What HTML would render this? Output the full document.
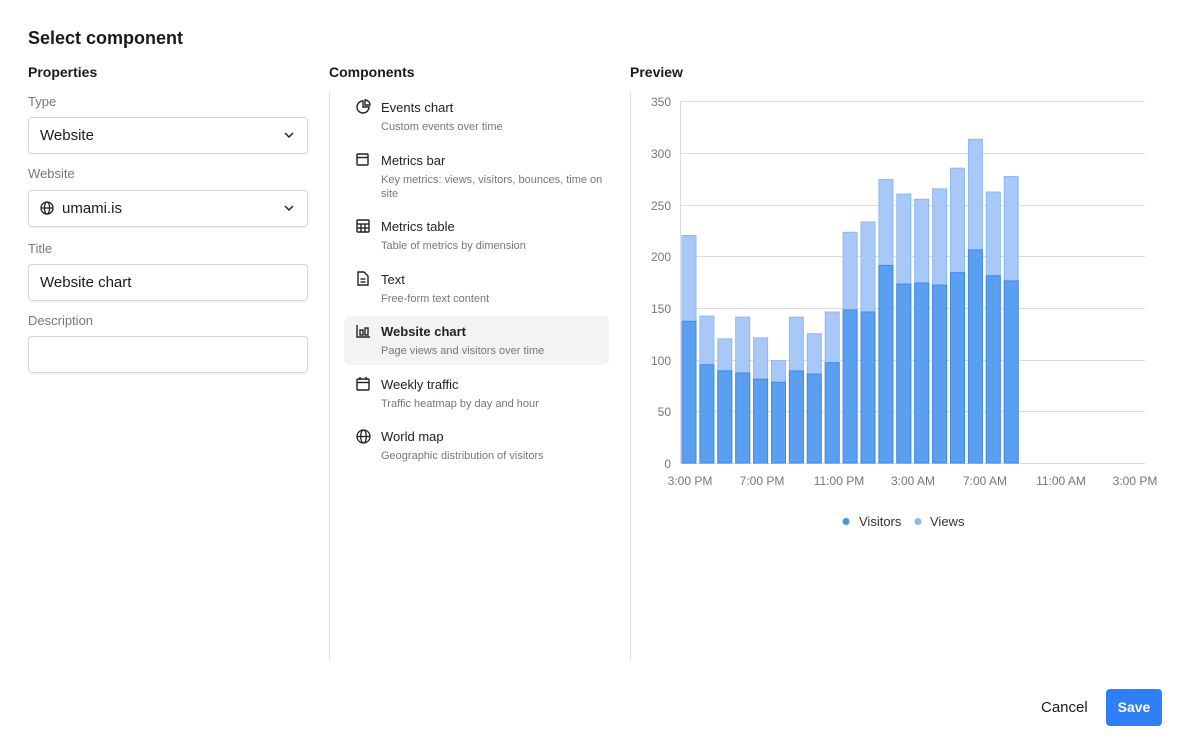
<!DOCTYPE html>
<html><head><meta charset="utf-8"><style>
*{box-sizing:border-box;margin:0;padding:0}
body{width:1191px;height:755px;background:#fff;font-family:"Liberation Sans",sans-serif;color:#1a1a1a;position:relative;overflow:hidden}
.a{position:absolute}
h1{position:absolute;left:28px;top:28px;font-size:18px;font-weight:bold}
.h{position:absolute;font-size:14px;font-weight:bold;top:64px}
.lbl{position:absolute;left:28px;font-size:13px;color:#777}
.inp{position:absolute;left:28px;width:280px;height:37px;border:1px solid #d6d6d6;border-radius:4px;font-size:15px;padding:0 11px;line-height:36px;box-shadow:0 1px 2px rgba(0,0,0,.06)}
.chev{position:absolute;right:13px;top:13px}
.it{position:absolute;left:344px;width:265px}
.it .t{position:absolute;left:37px;font-size:13px;color:#222}
.it .d{position:absolute;left:37px;font-size:11px;color:#777;line-height:14px}
.ic{position:absolute;left:12px}
</style></head><body>
<h1>Select component</h1>
<div class="h" style="left:28px">Properties</div>
<div class="h" style="left:329px">Components</div>
<div class="h" style="left:630px">Preview</div>
<div class="lbl" style="top:94px">Type</div>
<div class="inp" style="top:117px">Website<svg class="chev" width="10" height="8"><path d="M1 2l4 4 4-4" fill="none" stroke="#222" stroke-width="1.5"/></svg></div>
<div class="lbl" style="top:166px">Website</div>
<div class="inp" style="top:190px"><svg width="14" height="14" style="vertical-align:-2px;margin-right:8px" fill="none" stroke="#222" stroke-width="1.3"><circle cx="7" cy="7" r="6"/><ellipse cx="7" cy="7" rx="2.6" ry="6"/><line x1="1" y1="7" x2="13" y2="7"/></svg>umami.is<svg class="chev" width="10" height="8"><path d="M1 2l4 4 4-4" fill="none" stroke="#222" stroke-width="1.5"/></svg></div>
<div class="lbl" style="top:241px">Title</div>
<div class="inp" style="top:264px">Website chart</div>
<div class="lbl" style="top:313px">Description</div>
<div class="inp" style="top:336px"></div>
<div class="a" style="left:329px;top:92px;width:1px;height:568px;background:#ddd"></div>
<div class="a" style="left:630px;top:92px;width:1px;height:568px;background:#ddd"></div>

<div class="it" style="top:97px"><svg class="ic" style="top:2px" width="15" height="15" fill="none" stroke="#222" stroke-width="1.4"><path d="M7 2a6 6 0 1 0 6 6H7z"/><path d="M9 1a5 5 0 0 1 5 5H9z"/></svg><span class="t" style="top:3px">Events chart</span><span class="d" style="top:23px">Custom events over time</span></div>
<div class="it" style="top:150px"><svg class="ic" style="top:3px" width="14" height="14" fill="none" stroke="#222" stroke-width="1.4"><rect x="1" y="1" width="11" height="11" rx="1"/><line x1="1" y1="4.5" x2="12" y2="4.5"/></svg><span class="t" style="top:3px">Metrics bar</span><span class="d" style="top:23px;width:225px">Key metrics: views, visitors, bounces, time on site</span></div>
<div class="it" style="top:216px"><svg class="ic" style="top:3px" width="14" height="14" fill="none" stroke="#222" stroke-width="1.4"><rect x="1" y="1" width="12" height="12" rx="1"/><line x1="1" y1="5" x2="13" y2="5"/><line x1="1" y1="9" x2="13" y2="9"/><line x1="5" y1="5" x2="5" y2="13"/><line x1="9" y1="5" x2="9" y2="13"/></svg><span class="t" style="top:3px">Metrics table</span><span class="d" style="top:23px">Table of metrics by dimension</span></div>
<div class="it" style="top:269px"><svg class="ic" style="top:2px" width="14" height="15" fill="none" stroke="#222" stroke-width="1.4"><path d="M2 1h6l4 4v9H2z"/><line x1="4.5" y1="8" x2="9.5" y2="8"/><line x1="4.5" y1="11" x2="9.5" y2="11"/></svg><span class="t" style="top:3px">Text</span><span class="d" style="top:23px">Free-form text content</span></div>
<div class="it" style="top:316px;height:49px;background:#f3f3f3;border-radius:6px"><svg class="ic" style="top:8px" width="15" height="14" fill="none" stroke="#222" stroke-width="1.4"><path d="M1 1v12h13"/><rect x="4" y="6" width="3" height="5"/><rect x="9" y="4" width="3" height="7"/></svg><span class="t" style="top:8px;font-weight:bold">Website chart</span><span class="d" style="top:28px">Page views and visitors over time</span></div>
<div class="it" style="top:374px"><svg class="ic" style="top:2px" width="14" height="15" fill="none" stroke="#222" stroke-width="1.4"><rect x="1" y="3" width="12" height="11" rx="1"/><line x1="1" y1="6.5" x2="13" y2="6.5"/><line x1="4" y1="1" x2="4" y2="4"/><line x1="10" y1="1" x2="10" y2="4"/></svg><span class="t" style="top:3px">Weekly traffic</span><span class="d" style="top:23px">Traffic heatmap by day and hour</span></div>
<div class="it" style="top:426px"><svg class="ic" style="top:3px" width="15" height="15" fill="none" stroke="#222" stroke-width="1.3"><circle cx="7.5" cy="7.5" r="6.5"/><ellipse cx="7.5" cy="7.5" rx="2.8" ry="6.5"/><line x1="1" y1="7.5" x2="14" y2="7.5"/></svg><span class="t" style="top:3px">World map</span><span class="d" style="top:23px">Geographic distribution of visitors</span></div>

<svg class="a" style="left:0;top:0" width="1191" height="755">
<g stroke="#dcdcdc" stroke-width="1">
<line x1="681" x2="1145" y1="101.5" y2="101.5"/><line x1="681" x2="1145" y1="153.5" y2="153.5"/><line x1="681" x2="1145" y1="205.5" y2="205.5"/><line x1="681" x2="1145" y1="256.5" y2="256.5"/><line x1="681" x2="1145" y1="308.5" y2="308.5"/><line x1="681" x2="1145" y1="360.5" y2="360.5"/><line x1="681" x2="1145" y1="411.5" y2="411.5"/><line x1="681" x2="1145" y1="463.5" y2="463.5"/><line x1="680.5" x2="680.5" y1="101" y2="464"/>
</g>
<g font-size="12" fill="#777" text-anchor="end">
<text x="671" y="106">350</text><text x="671" y="158">300</text><text x="671" y="210">250</text><text x="671" y="261">200</text><text x="671" y="313">150</text><text x="671" y="365">100</text><text x="671" y="416">50</text><text x="671" y="468">0</text>
</g>
<g font-size="12" fill="#777" text-anchor="middle">
<text x="690" y="485">3:00 PM</text><text x="762" y="485">7:00 PM</text><text x="839" y="485">11:00 PM</text><text x="913" y="485">3:00 AM</text><text x="985" y="485">7:00 AM</text><text x="1061" y="485">11:00 AM</text><text x="1135" y="485">3:00 PM</text>
</g>
<g transform="translate(0,463) scale(1,-1.0343)" fill="#a8c9f7" stroke="#8fb9f3" stroke-width="1">
<rect x="682" width="14" height="220"/><rect x="699.9" width="14" height="142"/><rect x="717.8" width="14" height="120"/><rect x="735.7" width="14" height="141"/><rect x="753.6" width="14" height="121"/><rect x="771.5" width="14" height="99"/><rect x="789.4" width="14" height="141"/><rect x="807.3" width="14" height="125"/><rect x="825.2" width="14" height="146"/><rect x="843.1" width="14" height="223"/><rect x="861" width="14" height="233"/><rect x="878.9" width="14" height="274"/><rect x="896.8" width="14" height="260"/><rect x="914.7" width="14" height="255"/><rect x="932.6" width="14" height="265"/><rect x="950.5" width="14" height="285"/><rect x="968.4" width="14" height="313"/><rect x="986.3" width="14" height="262"/><rect x="1004.2" width="14" height="277"/>
</g>
<g transform="translate(0,463) scale(1,-1.0343)" fill="#5b9ff0" stroke="#3f8ae8" stroke-width="1">
<rect x="682" width="14" height="137"/><rect x="699.9" width="14" height="95"/><rect x="717.8" width="14" height="89"/><rect x="735.7" width="14" height="87"/><rect x="753.6" width="14" height="81"/><rect x="771.5" width="14" height="78"/><rect x="789.4" width="14" height="89"/><rect x="807.3" width="14" height="86"/><rect x="825.2" width="14" height="97"/><rect x="843.1" width="14" height="148"/><rect x="861" width="14" height="146"/><rect x="878.9" width="14" height="191"/><rect x="896.8" width="14" height="173"/><rect x="914.7" width="14" height="174"/><rect x="932.6" width="14" height="172"/><rect x="950.5" width="14" height="184"/><rect x="968.4" width="14" height="206"/><rect x="986.3" width="14" height="181"/><rect x="1004.2" width="14" height="176"/>
</g>
<circle cx="846" cy="521.5" r="3.5" fill="#4a90e8"/><text x="859" y="526" font-size="13" fill="#333">Visitors</text>
<circle cx="918" cy="521.5" r="3.5" fill="#8ab8f3"/><text x="930" y="526" font-size="13" fill="#333">Views</text>
</svg>
<div class="a" style="left:1041px;top:699px;font-size:15px">Cancel</div>
<div class="a" style="left:1106px;top:689px;width:56px;height:37px;background:#2f80f7;border-radius:4px;color:#fff;font-size:14px;font-weight:bold;text-align:center;line-height:37px">Save</div>
</body></html>
